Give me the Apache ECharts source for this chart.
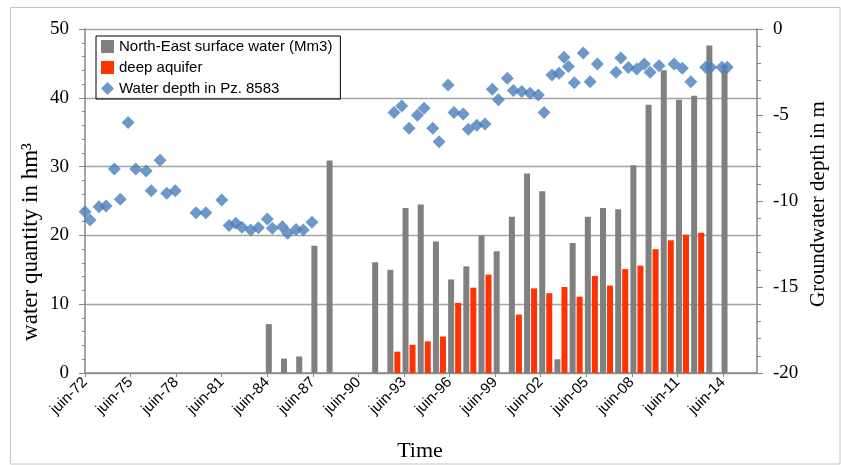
<!DOCTYPE html>
<html>
<head>
<meta charset="utf-8">
<script src="https://cdn.jsdelivr.net/npm/echarts@6/dist/echarts.min.js"></script>
<style>
  html, body { margin: 0; padding: 0; background: #fff; }
  #chartContainer { width: 841px; height: 465px; }
</style>
</head>
<body>
<div id="chartContainer"></div>
<script>
// axis origin: juin-72
const X0 = 1972 + 5 / 12;

// yearly volumes (bars dated in October of each year)
const barYears = [1984, 1985, 1986, 1987, 1988, 1989, 1990, 1991, 1992, 1993, 1994,
  1995, 1996, 1997, 1998, 1999, 2000, 2001, 2002, 2003, 2004, 2005, 2006, 2007,
  2008, 2009, 2010, 2011, 2012, 2013, 2014];
const surfaceWater = [7.1, 2.1, 2.4, 18.5, 30.9, null, null, 16.1, 15.0, 24.0, 24.5,
  19.1, 13.6, 15.5, 20.0, 17.7, 22.7, 29.0, 26.4, 2.0, 18.9, 22.7, 24.0, 23.8,
  30.2, 39.0, 44.0, 39.7, 40.3, 47.6, 44.0];
const deepAquifer = [null, null, null, null, null, null, null, null, 3.1, 4.1, 4.6,
  5.3, 10.2, 12.4, 14.3, null, 8.5, 12.3, 11.6, 12.5, 11.1, 14.1, 12.7, 15.1,
  15.6, 18.0, 19.3, 20.1, 20.4, null, null];

// piezometer readings (decimal year, depth in m)
const depthDates = [1972.42, 1972.75, 1973.34, 1973.80, 1974.35, 1974.74, 1975.25,
  1975.76, 1976.44, 1976.78, 1977.36, 1977.80, 1978.36, 1979.73, 1980.37, 1981.42,
  1981.90, 1982.34, 1982.74, 1983.33, 1983.83, 1984.42, 1984.75, 1985.41, 1985.76,
  1986.31, 1986.79, 1987.36,
  1992.76, 1993.27, 1993.75, 1994.30, 1994.74, 1995.31, 1995.73, 1996.32, 1996.71,
  1997.32, 1997.65, 1998.21, 1998.75, 1999.23, 1999.63, 2000.22, 2000.62, 2001.17,
  2001.72, 2002.26, 2002.64, 2003.16, 2003.62, 2003.95, 2004.24, 2004.63, 2005.22,
  2005.67, 2006.15, 2007.38, 2007.69, 2008.19, 2008.74, 2009.24, 2009.62, 2010.21,
  2011.20, 2011.74, 2012.30, 2013.28, 2013.61, 2014.34, 2014.70];
const depthValues = [-10.63, -11.11, -10.33, -10.29, -8.14, -9.90, -5.44,
  -8.14, -8.26, -9.40, -7.63, -9.55, -9.40, -10.68, -10.68, -9.94,
  -11.42, -11.30, -11.53, -11.69, -11.56, -11.05, -11.59, -11.50, -11.88,
  -11.65, -11.69, -11.23,
  -4.86, -4.47, -5.77, -5.01, -4.61, -5.77, -6.55, -3.25, -4.86,
  -4.94, -5.83, -5.60, -5.52, -3.50, -4.12, -2.86, -3.58, -3.64,
  -3.73, -3.83, -4.86, -2.68, -2.57, -1.64, -2.18, -3.12, -1.40,
  -3.06, -2.03, -2.51, -1.69, -2.24, -2.33, -2.03, -2.51, -2.13,
  -2.03, -2.28, -3.06, -2.22, -2.22, -2.22, -2.22];

const seriesNames = ['North-East surface water (Mm3)', 'deep aquifer', 'Water depth in Pz. 8583'];

const serif = "'Liberation Serif', 'Times New Roman', serif";
const sans = "'Liberation Sans', Arial, sans-serif";
const axisGray = '#868686';

const barX = barYears.map(y => y + 0.75 - X0);

const option = {
  animation: false,
  backgroundColor: '#fff',
  grid: { left: 85, right: 84, top: 29, bottom: 92 },
  legend: {
    orient: 'vertical',
    left: 96,
    top: 36,
    padding: [3, 8, 3, 5],
    borderColor: '#000',
    borderWidth: 1,
    itemWidth: 13,
    itemHeight: 13,
    itemGap: 6,
    textStyle: { fontFamily: sans, fontSize: 15, color: '#000' },
    data: [
      { name: seriesNames[0], icon: 'rect' },
      { name: seriesNames[1], icon: 'rect' },
      { name: seriesNames[2], icon: 'diamond' }
    ]
  },
  xAxis: {
    type: 'value',
    min: 0,
    max: 44.24,
    interval: 3,
    axisLine: { lineStyle: { color: axisGray, width: 1.5 } },
    axisTick: { length: 4, lineStyle: { color: axisGray } },
    splitLine: { show: false },
    axisLabel: {
      rotate: 45,
      margin: 7,
      fontFamily: sans,
      fontSize: 15,
      color: '#000',
      showMaxLabel: false,
      formatter: function (v) {
        if (Math.abs(v - Math.round(v)) > 1e-6) return '';
        const y = 1972 + Math.round(v);
        return 'juin-' + String(y % 100).padStart(2, '0');
      }
    }
  },
  yAxis: [
    {
      type: 'value',
      min: 0,
      max: 50,
      interval: 10,
      axisLine: { show: true, lineStyle: { color: axisGray, width: 1.5 } },
      axisTick: { show: true, length: 6, lineStyle: { color: axisGray } },
      minorTick: { show: true, splitNumber: 5, length: 3, lineStyle: { color: axisGray } },
      splitLine: { lineStyle: { color: '#a3a3a3', width: 1.3 } },
      axisLabel: { margin: 16, fontFamily: serif, fontSize: 19, color: '#000' }
    },
    {
      type: 'value',
      position: 'right',
      min: -20,
      max: 0,
      interval: 5,
      axisLine: { show: true, lineStyle: { color: axisGray, width: 1.5 } },
      axisTick: { show: true, length: 6, lineStyle: { color: axisGray } },
      minorTick: { show: true, splitNumber: 5, length: 4, lineStyle: { color: axisGray } },
      splitLine: { show: false },
      axisLabel: { margin: 16, fontFamily: serif, fontSize: 19, color: '#000' }
    }
  ],
  graphic: [
    {
      type: 'rect',
      shape: { x: 10.5, y: 7.5, width: 829.5, height: 456.5 },
      style: { fill: 'none', stroke: '#c4c4c4', lineWidth: 1 },
      z: -1
    },
    {
      type: 'text',
      x: 31,
      y: 242,
      rotation: Math.PI / 2,
      style: {
        text: 'water quantity in hm³',
        font: '23px ' + serif,
        fill: '#000',
        textAlign: 'center',
        textVerticalAlign: 'middle'
      }
    },
    {
      type: 'text',
      x: 818,
      y: 204,
      rotation: Math.PI / 2,
      style: {
        text: 'Groundwater depth in m',
        font: '21px ' + serif,
        fill: '#000',
        textAlign: 'center',
        textVerticalAlign: 'middle'
      }
    },
    {
      type: 'text',
      x: 420,
      y: 451,
      style: {
        text: 'Time',
        font: '22px ' + serif,
        fill: '#000',
        textAlign: 'center',
        textVerticalAlign: 'middle'
      }
    }
  ],
  series: [
    {
      name: seriesNames[0],
      type: 'bar',
      barWidth: 6,
      barGap: '17%',
      itemStyle: { color: '#808080' },
      data: barX.map((x, i) => [x, surfaceWater[i]])
    },
    {
      name: seriesNames[1],
      type: 'bar',
      barWidth: 6,
      barGap: '17%',
      itemStyle: { color: '#ff3300' },
      data: barX.map((x, i) => [x, deepAquifer[i]])
    },
    {
      name: seriesNames[2],
      type: 'scatter',
      yAxisIndex: 1,
      symbol: 'diamond',
      symbolSize: 13,
      clip: false,
      itemStyle: { color: '#4a7ebb' },
      data: depthDates.map((d, i) => [d - X0, depthValues[i]])
    }
  ]
};

const myChart = echarts.init(document.getElementById('chartContainer'));
myChart.setOption(option);
</script>
</body>
</html>
